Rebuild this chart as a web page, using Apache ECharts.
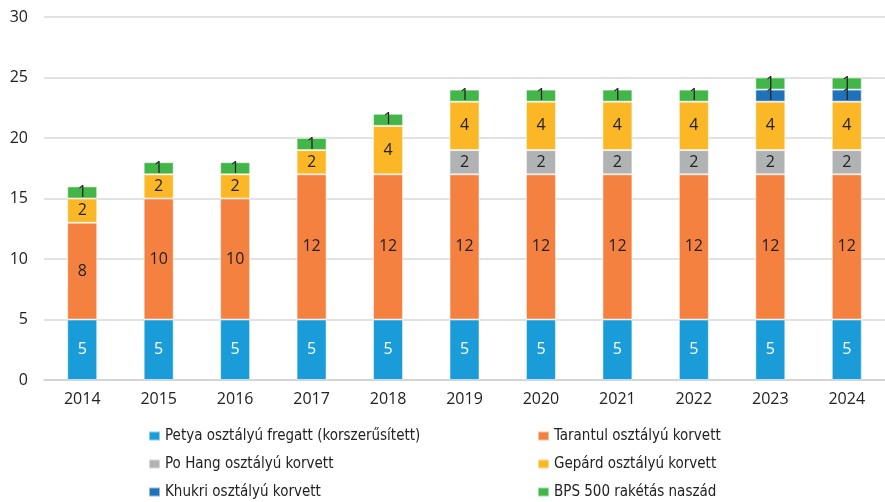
<!DOCTYPE html>
<html>
<head>
<meta charset="utf-8">
<script src="https://cdn.jsdelivr.net/npm/echarts@6/dist/echarts.min.js"></script>
<style>
html,body{margin:0;padding:0;background:#fff;}
#chart{width:885px;height:502px;}
</style>
</head>
<body>
<div id="chart"></div>
<script>
// évek
var years = ['2014','2015','2016','2017','2018','2019','2020','2021','2022','2023','2024'];
// hajóosztályok
var petya    = [5,5,5,5,5,5,5,5,5,5,5];
var tarantul = [8,10,10,12,12,12,12,12,12,12,12];
var poHang   = [0,0,0,0,0,2,2,2,2,2,2];
var gepard   = [2,2,2,2,4,4,4,4,4,4,4];
var khukri   = [0,0,0,0,0,0,0,0,0,1,1];
var bps500   = [1,1,1,1,1,1,1,1,1,1,1];
var yTicks   = [0,5,10,15,20,25,30];

var FONT = 'Open Sans';
var NARROW = "'DejaVu Sans Condensed', 'Open Sans', sans-serif";

function makeSeries(name, data, color, labelColor){
	return {
		name: name,
		type: 'bar',
		stack: 'total',
		barWidth: 30,
		data: data.map(function(v){ return v === 0 ? null : v; }),
		itemStyle: { color: color, borderColor: 'rgba(255,255,255,0.5)', borderWidth: 1 },
		label: {
			show: true,
			position: 'inside',
			color: labelColor,
			fontFamily: FONT,
			fontSize: 16
		}
	};
}

var myChart = echarts.init(document.getElementById('chart'));

var legendText = { fontFamily: NARROW, fontSize: 15, lineHeight: 16, color: '#222' };

option = {
	animation: false,
	grid: { left: 44, right: -8, top: 17, bottom: 122 },
	xAxis: {
		type: 'category',
		data: years,
		axisLine: { lineStyle: { color: '#d0d0d0', width: 1.5 } },
		axisTick: { show: false },
		axisLabel: { color: '#222', fontFamily: FONT, fontSize: 16, margin: 11 }
	},
	yAxis: {
		type: 'value',
		min: yTicks[0],
		max: yTicks[yTicks.length - 1],
		interval: 5,
		axisLine: { show: false },
		axisTick: { show: false },
		splitLine: { lineStyle: { color: '#d9d9d9', width: 1.5 } },
		axisLabel: { color: '#222', fontFamily: FONT, fontSize: 16, margin: 16 }
	},
	legend: [{
		orient: 'vertical',
		left: 148,
		top: 428,
		padding: 0,
		itemWidth: 11,
		itemHeight: 9,
		itemGap: 12,
		icon: 'rect',
		textStyle: legendText,
		data: ['Petya osztályú fregatt (korszerűsített)', 'Po Hang osztályú korvett', 'Khukri osztályú korvett']
	}, {
		orient: 'vertical',
		left: 537,
		top: 428,
		padding: 0,
		itemWidth: 11,
		itemHeight: 9,
		itemGap: 12,
		icon: 'rect',
		textStyle: legendText,
		data: ['Tarantul osztályú korvett', 'Gepárd osztályú korvett', 'BPS 500 rakétás naszád']
	}],
	series: [
		makeSeries('Petya osztályú fregatt (korszerűsített)', petya, '#1a9cd8', '#fff'),
		makeSeries('Tarantul osztályú korvett', tarantul, '#f4813f', '#222'),
		makeSeries('Po Hang osztályú korvett', poHang, '#b1b2b4', '#222'),
		makeSeries('Gepárd osztályú korvett', gepard, '#fbb726', '#222'),
		makeSeries('Khukri osztályú korvett', khukri, '#1f72b8', '#222'),
		makeSeries('BPS 500 rakétás naszád', bps500, '#43b649', '#222')
	]
};
myChart.setOption(option);
</script>
</body>
</html>
